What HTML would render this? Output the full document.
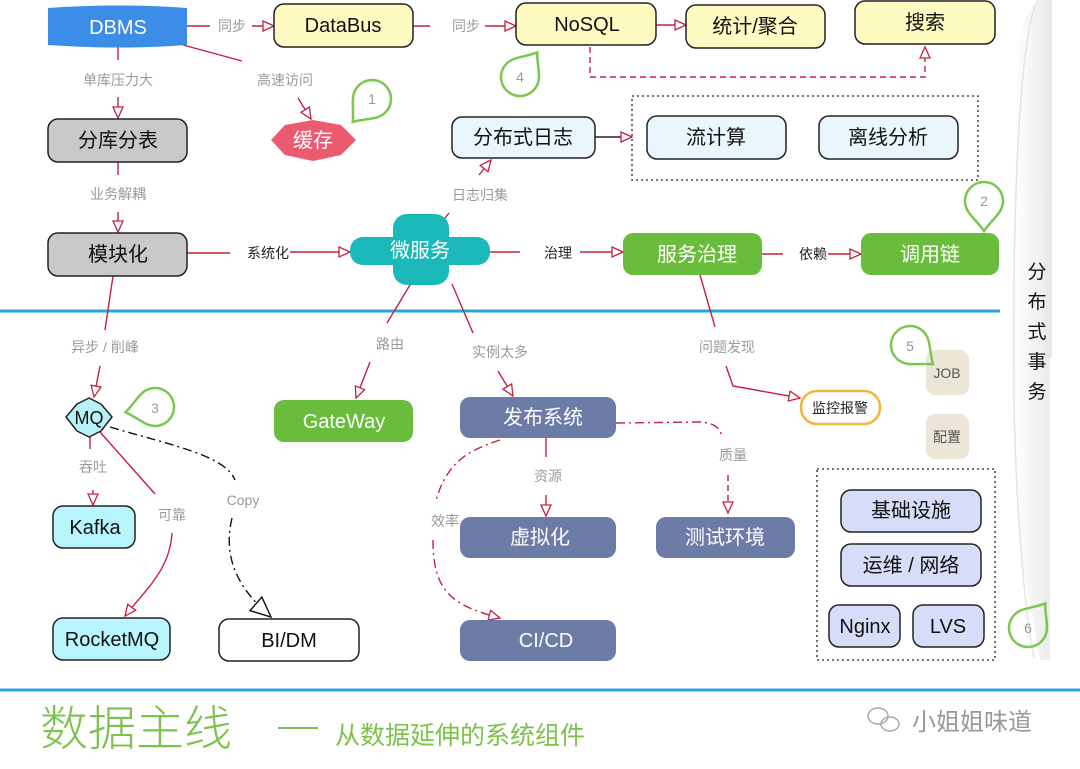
<!DOCTYPE html>
<html><head><meta charset="utf-8"><style>
html,body{margin:0;padding:0;background:#fff;}
svg{display:block;font-family:"Liberation Sans","Noto Sans CJK SC",sans-serif;}
.lbl{fill:#9a9a9a;font-size:14px;text-anchor:middle;}
.dl{fill:#222;font-size:14px;text-anchor:middle;}
.e{stroke:#c4213f;stroke-width:1.4;fill:none;}
.t{font-size:20px;text-anchor:middle;dominant-baseline:central;}
.bub{fill:none;stroke:#7cc752;stroke-width:2.5;}
.bn{fill:#999;font-size:14px;text-anchor:middle;dominant-baseline:central;}
</style></head><body>
<svg width="1080" height="769" viewBox="0 0 1080 769" xmlns="http://www.w3.org/2000/svg">
<defs>
<marker id="a" markerWidth="14" markerHeight="12" refX="12" refY="6" orient="auto" markerUnits="userSpaceOnUse">
<path d="M1,1 L12,6 L1,11 Z" fill="#fff" stroke="#c4213f" stroke-width="1.3"/></marker>
<marker id="b" markerWidth="24" markerHeight="22" refX="21" refY="11" orient="auto" markerUnits="userSpaceOnUse">
<path d="M1,2 L21,11 L1,20 Z" fill="#fff" stroke="#111" stroke-width="1.4"/></marker>
<linearGradient id="g" x1="0" x2="1"><stop offset="0" stop-color="#fff"/><stop offset="1" stop-color="#e6e6e6"/></linearGradient>
</defs>

<!-- right scroll -->
<path d="M1040,0 L1052,0 L1052,358 L1045,358 Z" fill="url(#g)"/>
<path d="M1018,60 C1010,200 1012,500 1022,560 L1040,660 L1050,660 L1050,0 L1040,0 C1025,10 1020,30 1018,60Z" fill="url(#g)" opacity="0.8"/>
<path d="M1038,0 C1020,30 1012,200 1014,400 C1016,520 1026,620 1034,658" stroke="#e4e4e4" fill="none" stroke-width="1.5"/>
<g font-size="19" fill="#111" text-anchor="middle">
<text x="1037" y="278">分</text><text x="1037" y="308">布</text><text x="1037" y="338">式</text><text x="1037" y="368">事</text><text x="1037" y="398">务</text></g>

<!-- blue lines -->
<line x1="0" y1="311" x2="1000" y2="311" stroke="#22a7e0" stroke-width="3"/>
<line x1="0" y1="690" x2="1080" y2="690" stroke="#22a7e0" stroke-width="3"/>

<!-- edges -->
<line class="e" x1="187" y1="26" x2="210" y2="26"/><text class="lbl" x="232" y="31">同步</text>
<line class="e" x1="252" y1="26" x2="274" y2="26" marker-end="url(#a)"/>
<line class="e" x1="413" y1="26" x2="430" y2="26"/><text class="lbl" x="466" y="31">同步</text>
<line class="e" x1="485" y1="26" x2="516" y2="26" marker-end="url(#a)"/>
<line class="e" x1="656" y1="25" x2="686" y2="25" marker-end="url(#a)"/>
<path class="e" d="M590,47 L590,77 L925,77 L925,47" stroke-dasharray="6,4" marker-end="url(#a)"/>
<line class="e" x1="183" y1="45" x2="242" y2="61"/><text class="lbl" x="285" y="85">高速访问</text>
<line class="e" x1="298" y1="98" x2="311" y2="119" marker-end="url(#a)"/>
<line class="e" x1="118" y1="47" x2="118" y2="60"/><text class="lbl" x="118" y="85">单库压力大</text>
<line class="e" x1="118" y1="97" x2="118" y2="118" marker-end="url(#a)"/>
<line class="e" x1="118" y1="162" x2="118" y2="175"/><text class="lbl" x="118" y="199">业务解耦</text>
<line class="e" x1="118" y1="212" x2="118" y2="232" marker-end="url(#a)"/>
<line class="e" x1="187" y1="253" x2="230" y2="253"/><text class="dl" x="268" y="258">系统化</text>
<line class="e" x1="290" y1="252" x2="350" y2="252" marker-end="url(#a)"/>
<line class="e" x1="442" y1="222" x2="449" y2="213"/><text class="lbl" x="480" y="200">日志归集</text>
<line class="e" x1="479" y1="175" x2="491" y2="160" marker-end="url(#a)"/>
<line class="e" x1="595" y1="137" x2="632" y2="137" marker-end="url(#a)" style="stroke:#222"/>
<line class="e" x1="490" y1="252" x2="520" y2="252"/><text class="dl" x="558" y="258">治理</text>
<line class="e" x1="580" y1="252" x2="623" y2="252" marker-end="url(#a)"/>
<line class="e" x1="762" y1="254" x2="783" y2="254"/><text class="dl" x="813" y="259">依赖</text>
<line class="e" x1="828" y1="254" x2="861" y2="254" marker-end="url(#a)"/>
<line class="e" x1="113" y1="276" x2="105" y2="330"/><text class="lbl" x="105" y="352">异步 / 削峰</text>
<line class="e" x1="100" y1="366" x2="94" y2="397" marker-end="url(#a)"/>
<line class="e" x1="410" y1="285" x2="387" y2="323"/><text class="lbl" x="390" y="349">路由</text>
<line class="e" x1="370" y1="362" x2="356" y2="398" marker-end="url(#a)"/>
<line class="e" x1="452" y1="284" x2="473" y2="333"/><text class="lbl" x="500" y="357">实例太多</text>
<line class="e" x1="498" y1="371" x2="513" y2="396" marker-end="url(#a)"/>
<line class="e" x1="700" y1="275" x2="715" y2="327"/><text class="lbl" x="727" y="352">问题发现</text>
<path class="e" d="M726,366 L733,386 L800,398" marker-end="url(#a)"/>
<line class="e" x1="90" y1="437" x2="90" y2="449"/><text class="lbl" x="93" y="472">吞吐</text>
<line class="e" x1="93" y1="490" x2="93" y2="505" marker-end="url(#a)"/>
<line class="e" x1="100" y1="432" x2="155" y2="494"/><text class="lbl" x="172" y="520">可靠</text>
<path class="e" d="M172,533 C170,570 145,590 125,616" marker-end="url(#a)"/>
<path d="M110,427 C170,445 225,455 235,480" stroke="#111" stroke-width="1.4" fill="none" stroke-dasharray="9,4,2,4"/>
<text class="lbl" x="243" y="505">Copy</text>
<path d="M232,518 C222,560 240,590 271,617" stroke="#111" stroke-width="1.4" fill="none" stroke-dasharray="9,4,2,4" marker-end="url(#b)"/>
<path class="e" d="M500,440 C470,450 448,460 436,500" stroke-dasharray="9,4,2,4"/>
<text class="lbl" x="445" y="526">效率</text>
<path class="e" d="M433,540 C433,590 450,605 500,618" stroke-dasharray="9,4,2,4" marker-end="url(#a)"/>
<line class="e" x1="546" y1="438" x2="546" y2="457"/><text class="lbl" x="548" y="481">资源</text>
<line class="e" x1="546" y1="495" x2="546" y2="516" marker-end="url(#a)"/>
<path class="e" d="M616,423 L700,422 C715,423 720,428 722,437" stroke-dasharray="9,4,2,4"/>
<text class="lbl" x="733" y="460">质量</text>
<line class="e" x1="728" y1="475" x2="728" y2="513" stroke-dasharray="6,4" marker-end="url(#a)"/>

<!-- nodes top -->
<path d="M48,8 Q118,3 187,8 L187,45 Q118,50 48,45 Z" fill="#3b8de8"/>
<text class="t" x="118" y="28" fill="#fff">DBMS</text>
<rect x="274" y="4" width="139" height="43" rx="10" fill="#fdfbc2" stroke="#222" stroke-width="1.5"/><text class="t" x="343" y="26" fill="#111">DataBus</text>
<rect x="516" y="3" width="140" height="42" rx="10" fill="#fdfbc2" stroke="#222" stroke-width="1.5"/><text class="t" x="587" y="25" fill="#111">NoSQL</text>
<rect x="686" y="5" width="139" height="43" rx="10" fill="#fdfbc2" stroke="#222" stroke-width="1.5"/><text class="t" x="755" y="27" fill="#111">统计/聚合</text>
<rect x="855" y="1" width="140" height="43" rx="10" fill="#fdfbc2" stroke="#222" stroke-width="1.5"/><text class="t" x="925" y="23" fill="#111">搜索</text>
<rect x="48" y="119" width="139" height="43" rx="10" fill="#c9c9c9" stroke="#222" stroke-width="1.5"/><text class="t" x="118" y="141" fill="#111">分库分表</text>
<rect x="48" y="233" width="139" height="43" rx="10" fill="#c9c9c9" stroke="#222" stroke-width="1.5"/><text class="t" x="118" y="255" fill="#111">模块化</text>
<path d="M271,140 L285,125 L313,120 L341,125 L356,140 L341,155 L313,161 L285,155 Z" fill="#eb5b70" stroke-linejoin="round"/>
<text class="t" x="313" y="141" fill="#fff">缓存</text>
<rect x="452" y="117" width="143" height="41" rx="10" fill="#e9f7fd" stroke="#222" stroke-width="1.5"/><text class="t" x="523" y="138" fill="#111">分布式日志</text>
<rect x="632" y="96" width="346" height="84" fill="none" stroke="#222" stroke-width="1.3" stroke-dasharray="2,3"/>
<rect x="647" y="116" width="139" height="43" rx="10" fill="#e9f7fd" stroke="#222" stroke-width="1.5"/><text class="t" x="716" y="138" fill="#111">流计算</text>
<rect x="819" y="116" width="139" height="43" rx="10" fill="#e9f7fd" stroke="#222" stroke-width="1.5"/><text class="t" x="888" y="138" fill="#111">离线分析</text>
<!-- cross -->
<rect x="350" y="237" width="140" height="28" rx="13" fill="#1bb8b9"/>
<rect x="393" y="214" width="56" height="71" rx="14" fill="#1bb8b9"/>
<text class="t" x="420" y="251" fill="#fff">微服务</text>
<rect x="623" y="233" width="139" height="42" rx="10" fill="#6abd3c"/><text class="t" x="697" y="255" fill="#fff">服务治理</text>
<rect x="861" y="233" width="138" height="42" rx="10" fill="#6abd3c"/><text class="t" x="930" y="255" fill="#fff">调用链</text>

<!-- bottom nodes -->
<path d="M89,398 L101,404 L112,417 L101,431 L89,437 L77,431 L66,417 L77,404 Z" fill="#b9f1f9" stroke="#222" stroke-width="1.5" stroke-linejoin="round"/>
<text class="t" x="89" y="418" fill="#111" style="font-size:18px">MQ</text>
<rect x="53" y="506" width="82" height="42" rx="10" fill="#b9f5fd" stroke="#222" stroke-width="1.5"/><text class="t" x="95" y="528" fill="#111">Kafka</text>
<rect x="53" y="618" width="117" height="42" rx="10" fill="#b9f5fd" stroke="#222" stroke-width="1.5"/><text class="t" x="112" y="640" fill="#111">RocketMQ</text>
<rect x="219" y="619" width="140" height="42" rx="10" fill="#fff" stroke="#222" stroke-width="1.5"/><text class="t" x="289" y="641" fill="#111">BI/DM</text>
<rect x="274" y="400" width="139" height="42" rx="10" fill="#6abd3c"/><text class="t" x="344" y="422" fill="#fff">GateWay</text>
<rect x="460" y="397" width="156" height="41" rx="10" fill="#6c7ca6"/><text class="t" x="543" y="418" fill="#fff">发布系统</text>
<rect x="460" y="517" width="156" height="41" rx="10" fill="#6c7ca6"/><text class="t" x="540" y="538" fill="#fff">虚拟化</text>
<rect x="460" y="620" width="156" height="41" rx="10" fill="#6c7ca6"/><text class="t" x="546" y="641" fill="#fff">CI/CD</text>
<rect x="656" y="517" width="139" height="41" rx="10" fill="#6c7ca6"/><text class="t" x="725" y="538" fill="#fff">测试环境</text>
<rect x="801" y="391" width="79" height="33" rx="16" fill="#fff" stroke="#f5b53d" stroke-width="2.5"/><text class="t" x="840" y="408" fill="#222" style="font-size:14px">监控报警</text>
<rect x="926" y="350" width="43" height="45" rx="9" fill="#ece6d7"/><text class="t" x="947" y="373" fill="#555" style="font-size:14px">JOB</text>
<rect x="926" y="414" width="43" height="45" rx="9" fill="#ece6d7"/><text class="t" x="947" y="437" fill="#555" style="font-size:14px">配置</text>
<rect x="817" y="469" width="178" height="191" fill="none" stroke="#222" stroke-width="1.3" stroke-dasharray="2,3"/>
<rect x="841" y="490" width="140" height="42" rx="10" fill="#d7ddf8" stroke="#222" stroke-width="1.5"/><text class="t" x="911" y="511" fill="#111">基础设施</text>
<rect x="841" y="544" width="140" height="42" rx="10" fill="#d7ddf8" stroke="#222" stroke-width="1.5"/><text class="t" x="911" y="566" fill="#111">运维 / 网络</text>
<rect x="829" y="605" width="71" height="42" rx="10" fill="#d7ddf8" stroke="#222" stroke-width="1.5"/><text class="t" x="865" y="627" fill="#111">Nginx</text>
<rect x="913" y="605" width="71" height="42" rx="10" fill="#d7ddf8" stroke="#222" stroke-width="1.5"/><text class="t" x="948" y="627" fill="#111">LVS</text>

<!-- bubbles -->
<g transform="translate(372,99) rotate(-140)"><path class="bub" d="M0,-30 C8,-18 19,-12 19,0 A19,19 0 1 1 -19,0 C-19,-12 -8,-18 0,-30Z"/></g><text class="bn" x="372" y="99">1</text>
<g transform="translate(984,201) rotate(180)"><path class="bub" d="M0,-30 C8,-18 19,-12 19,0 A19,19 0 1 1 -19,0 C-19,-12 -8,-18 0,-30Z"/></g><text class="bn" x="984" y="201">2</text>
<g transform="translate(155,407) rotate(-100)"><path class="bub" d="M0,-30 C8,-18 19,-12 19,0 A19,19 0 1 1 -19,0 C-19,-12 -8,-18 0,-30Z"/></g><text class="bn" x="155" y="408">3</text>
<g transform="translate(520,77) rotate(35)"><path class="bub" d="M0,-30 C8,-18 19,-12 19,0 A19,19 0 1 1 -19,0 C-19,-12 -8,-18 0,-30Z"/></g><text class="bn" x="520" y="77">4</text>
<g transform="translate(910,345) rotate(130)"><path class="bub" d="M0,-30 C8,-18 19,-12 19,0 A19,19 0 1 1 -19,0 C-19,-12 -8,-18 0,-30Z"/></g><text class="bn" x="910" y="346">5</text>
<g transform="translate(1028,628) rotate(35)"><path class="bub" d="M0,-30 C8,-18 19,-12 19,0 A19,19 0 1 1 -19,0 C-19,-12 -8,-18 0,-30Z"/></g><text class="bn" x="1028" y="628">6</text>

<!-- title -->
<text x="40" y="745" fill="#7cc24c" font-size="48" style="font-weight:300">数据主线</text>
<line x1="278" y1="728" x2="318" y2="728" stroke="#7cc24c" stroke-width="2"/>
<text x="335" y="744" fill="#7cc24c" font-size="25">从数据延伸的系统组件</text>
<g stroke="#aaa" fill="none" stroke-width="1.5"><ellipse cx="878" cy="716" rx="10" ry="8"/><ellipse cx="890" cy="724" rx="9" ry="7"/></g>
<text x="912" y="730" fill="#999" font-size="24">小姐姐味道</text>
</svg>
</body></html>
